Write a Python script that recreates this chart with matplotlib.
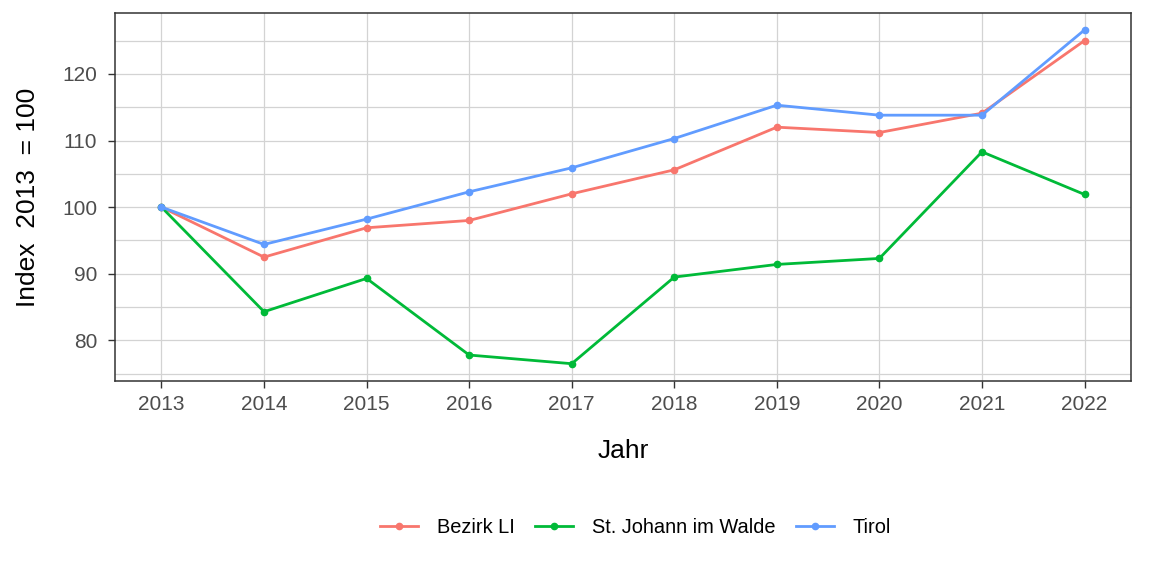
import matplotlib
matplotlib.use("Agg")
import matplotlib.pyplot as plt
from matplotlib.ticker import MultipleLocator

years = [2013, 2014, 2015, 2016, 2017, 2018, 2019, 2020, 2021, 2022]
bezirk_li = [100.0, 92.5, 96.9, 98.0, 102.0, 105.6, 112.0, 111.2, 114.1, 125.0]
st_johann = [100.0, 84.3, 89.3, 77.8, 76.5, 89.5, 91.4, 92.3, 108.3, 101.9]
tirol = [100.0, 94.4, 98.2, 102.3, 105.9, 110.3, 115.3, 113.8, 113.8, 126.6]

series_names = ["Bezirk LI", "St. Johann im Walde", "Tirol"]
series_values = [bezirk_li, st_johann, tirol]
colors = ["#F8766D", "#00BA38", "#619CFF"]

plt.rcParams['font.family'] = ['Liberation Sans', 'DejaVu Sans']

fig = plt.figure(figsize=(11.52, 5.76), dpi=100)
ax = fig.add_axes([0.1001, 0.3385, 0.8814, 0.6385])

for name, vals, c in zip(series_names, series_values, colors):
    ax.plot(years, vals, color=c, lw=2.0, marker='o', markersize=4.5,
            label=name, zorder=3)

ax.set_xlim(2013 - 0.45, 2022 + 0.45)
ax.set_ylim(73.9, 129.1)
ax.set_xticks(years)
ax.yaxis.set_major_locator(MultipleLocator(10))
ax.yaxis.set_minor_locator(MultipleLocator(5))
ax.set_yticks([80, 90, 100, 110, 120])

ax.grid(which='major', color='#d3d3d3', lw=0.9)
ax.grid(which='minor', axis='y', color='#d3d3d3', lw=0.9)
ax.set_axisbelow(True)
ax.tick_params(axis='both', which='major', colors='#333333', labelcolor='#4d4d4d',
               labelsize=15, length=5, width=1, pad=5)
ax.tick_params(axis='y', which='major', pad=8)
ax.tick_params(axis='y', which='minor', length=0)
for s in ax.spines.values():
    s.set_color('#333333')
    s.set_linewidth(1.1)

ax.set_xlabel("Jahr", fontsize=19, labelpad=18)
ax.set_ylabel("Index  2013  = 100", fontsize=19, labelpad=16)

leg = fig.legend(loc='center', bbox_to_anchor=(0.5517, 0.085), ncol=3, frameon=False,
                 fontsize=14.4, handlelength=1.9, columnspacing=1.0, handletextpad=0.95)

fig.savefig("out.png", dpi=100)
